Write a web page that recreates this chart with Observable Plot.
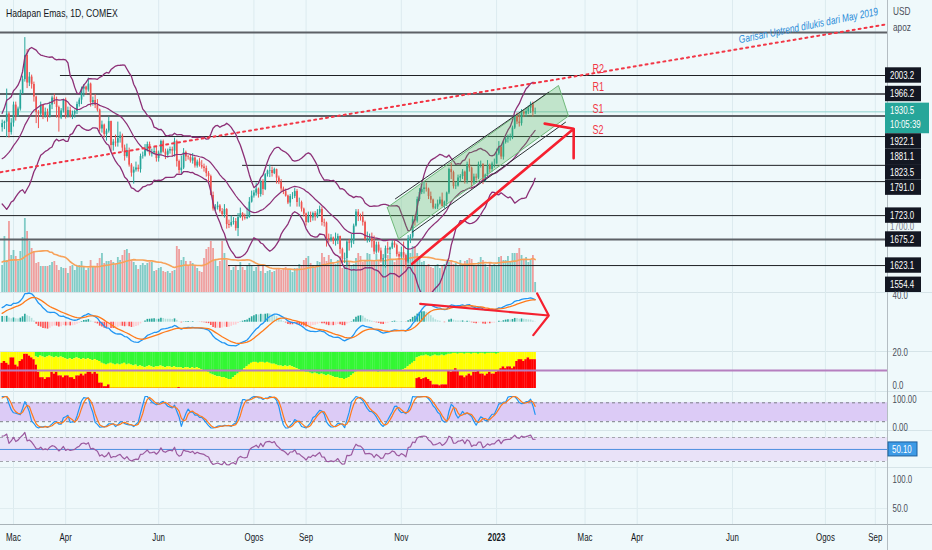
<!DOCTYPE html>
<html><head><meta charset="utf-8">
<script src="https://cdn.jsdelivr.net/npm/d3@7"></script>
<script src="https://cdn.jsdelivr.net/npm/@observablehq/plot@0.6"></script>
<style>
html,body{margin:0;padding:0;background:#eff9fb;}
#chart{position:relative;width:932px;height:550px;overflow:hidden;background:#eff9fb;
 font-family:"Liberation Sans",Arial,sans-serif;color:#131722;}
#chart svg{position:absolute;left:0;}
.sep{position:absolute;left:0;width:932px;height:1px;background:#d6e4e8;}
.txt{position:absolute;white-space:nowrap;transform:scaleX(0.75);transform-origin:0 0;}
</style></head>
<body><div id="chart"></div>
<script>
// ---------- DATA ----------
const monthLabels = ["Mac","Apr","Jun","Ogos","Sep","Nov","2023","Mac","Apr","Jun","Ogos","Sep"];
const monthIdx    = [5,28,69,111,134,176,218,257,280,322,363,385];

const warmClose = [1782,1762,1784,1779,1785,1783,1775,1783,1787,1771,1765,1798,1805,1793,1790,1803,1811,1810,1810,1805,1814,1828,
 1800,1815,1810,1789,1797,1801,1818,1826,1821,1817,1812,1843,1842,1832,1841,1853,1829,1793,1785,1796,
 1801,1808,1805,1808,1820,1826,1834,1836,1842,1869,1855,1871,1899,1900];
const warmVolume = [37,40,42,39,36,35,33,34,36,35,33,24,22,21,24,25,22,21,23];

const open = [1899,1907,1910,1926,1889,1908,1944,1922,1936,1966,
1995,2043,1988,2000,1985,1960,1929,1926,1943,1921,
1929,1921,1944,1958,1954,1939,1918,1932,1954,1923,
1933,1923,1926,1931,1945,1954,1976,1980,1974,1986,
1949,1953,1943,1934,1896,1904,1885,1892,1911,1863,
1870,1868,1877,1882,1858,1841,1853,1824,1808,1814,
1818,1815,1841,1842,1853,1865,1846,1848,1851,1837,
1848,1871,1850,1844,1852,1855,1852,1871,1831,1813,
1818,1849,1840,1839,1832,1838,1822,1830,1823,1820,
1817,1807,1801,1763,1736,1739,1742,1731,1725,1735,
1705,1703,1709,1711,1697,1719,1727,1719,1717,1719,
1750,1762,1768,1776,1765,1791,1775,1805,1812,1813,
1807,1815,1798,1789,1776,1771,1762,1748,1761,1761,
1771,1749,1749,1736,1726,1709,1721,1718,1727,1720,
1728,1735,1709,1708,1677,1675,1678,1671,1674,1681,
1655,1636,1637,1670,1668,1672,1702,1730,1721,1720,
1709,1675,1676,1677,1671,1650,1664,1652,1634,1637,
1657,1654,1658,1668,1663,1645,1640,1649,1643,1630,
1676,1680,1715,1712,1755,1769,1775,1778,1776,1761,
1754,1738,1740,1746,1754,1741,1750,1768,1815,1809,
1781,1782,1798,1801,1810,1792,1825,1818,1788,1800,
1798,1825,1825,1792,1804,1823,1815,1826,1826,1846,
1859,1840,1869,1876,1878,1878,1898,1921,1910,1907,
1930,1926,1931,1938,1946,1930];
const high = [1914,1912,1976,1930,1917,1950,1950,1940,1974,2002,
2079,2055,2009,2004,1990,1962,1933,1950,1945,1938,
1936,1950,1962,1966,1960,1942,1937,1956,1958,1940,
1940,1932,1934,1950,1958,1980,1985,1982,1998,1988,
1960,1965,1955,1936,1912,1906,1896,1920,1912,1875,
1884,1910,1890,1886,1864,1866,1858,1827,1820,1830,
1824,1846,1850,1865,1870,1870,1856,1860,1860,1852,
1874,1874,1856,1856,1860,1860,1878,1874,1834,1842,
1857,1852,1843,1845,1847,1840,1834,1837,1833,1826,
1822,1811,1804,1770,1745,1750,1745,1737,1745,1737,
1714,1722,1719,1717,1727,1738,1729,1726,1738,1759,
1772,1773,1788,1778,1794,1795,1807,1814,1824,1820,
1818,1816,1802,1795,1780,1776,1764,1765,1769,1777,
1775,1758,1752,1738,1728,1730,1730,1730,1731,1735,
1742,1740,1716,1710,1686,1685,1680,1688,1686,1682,
1658,1648,1673,1675,1685,1706,1735,1735,1726,1730,
1712,1690,1686,1688,1682,1670,1670,1658,1645,1662,
1670,1660,1675,1672,1666,1650,1660,1670,1646,1683,
1685,1721,1724,1760,1777,1785,1790,1788,1778,1770,
1756,1746,1754,1760,1768,1752,1770,1818,1828,1812,
1790,1804,1805,1815,1812,1830,1836,1820,1806,1806,
1830,1832,1827,1806,1833,1826,1830,1836,1856,1871,
1863,1872,1882,1884,1886,1902,1924,1928,1925,1935,
1934,1938,1942,1950,1950,1938];
const low = [1890,1895,1879,1878,1884,1900,1912,1920,1932,1966,
1990,1977,1981,1976,1950,1907,1897,1920,1915,1918,
1910,1918,1935,1945,1918,1890,1915,1928,1916,1918,
1918,1915,1918,1925,1940,1945,1960,1964,1970,1940,
1942,1937,1930,1890,1888,1878,1872,1888,1850,1852,
1860,1860,1868,1850,1832,1838,1820,1800,1786,1810,
1810,1808,1836,1840,1850,1842,1840,1845,1830,1830,
1844,1848,1835,1838,1846,1840,1840,1820,1806,1805,
1815,1831,1834,1828,1826,1818,1818,1820,1816,1810,
1800,1785,1763,1732,1731,1734,1728,1721,1718,1696,
1697,1700,1704,1692,1681,1717,1712,1714,1715,1718,
1748,1758,1762,1758,1760,1763,1773,1800,1799,1800,
1805,1786,1785,1770,1765,1760,1745,1740,1755,1757,
1740,1740,1730,1720,1702,1708,1709,1712,1712,1717,
1724,1702,1700,1660,1668,1670,1665,1662,1665,1646,
1627,1627,1622,1652,1658,1665,1700,1711,1712,1702,
1672,1668,1669,1658,1645,1646,1648,1628,1622,1618,
1646,1646,1655,1658,1640,1634,1636,1638,1618,1627,
1667,1676,1702,1708,1751,1765,1766,1770,1755,1747,
1735,1735,1735,1744,1740,1737,1741,1765,1795,1776,
1775,1780,1790,1795,1786,1786,1810,1776,1785,1792,
1795,1818,1785,1790,1800,1808,1810,1818,1826,1843,
1835,1834,1866,1868,1872,1875,1895,1905,1900,1902,
1919,1920,1925,1927,1920,1925];
const close = [1907,1910,1926,1889,1908,1944,1922,1936,1966,1995,
2043,1988,2000,1985,1960,1929,1926,1943,1921,1929,
1921,1944,1958,1954,1939,1918,1932,1954,1923,1933,
1923,1926,1931,1945,1954,1976,1980,1974,1986,1949,
1953,1943,1934,1896,1904,1885,1892,1911,1863,1870,
1868,1877,1882,1858,1841,1853,1824,1808,1814,1818,
1815,1841,1842,1853,1865,1846,1848,1851,1837,1848,
1871,1850,1844,1852,1855,1852,1871,1831,1813,1818,
1849,1840,1839,1832,1838,1822,1830,1823,1820,1817,
1807,1801,1763,1736,1739,1742,1731,1725,1735,1705,
1703,1709,1711,1697,1719,1727,1719,1717,1719,1750,
1762,1768,1776,1765,1791,1775,1805,1812,1813,1807,
1815,1798,1789,1776,1771,1762,1748,1761,1761,1771,
1749,1749,1736,1726,1709,1721,1718,1727,1720,1728,
1735,1709,1708,1677,1675,1678,1671,1674,1681,1655,
1636,1637,1670,1668,1672,1702,1730,1721,1720,1709,
1675,1676,1677,1671,1650,1664,1652,1634,1637,1657,
1654,1658,1668,1663,1645,1640,1649,1643,1630,1676,
1680,1715,1712,1755,1769,1775,1778,1776,1761,1754,
1738,1740,1746,1754,1741,1750,1768,1815,1809,1781,
1782,1798,1801,1810,1792,1825,1818,1788,1800,1798,
1825,1825,1792,1804,1823,1815,1826,1826,1846,1859,
1840,1869,1876,1878,1878,1898,1921,1910,1907,1930,
1926,1931,1938,1946,1930,1930.5];
// volume, in 10k contracts
const volume = [27,56,32,71,37,42,36,31,41,55,
74,61,51,44,41,29,30,26,26,26,
26,27,30,31,27,22,25,24,24,19,
26,27,22,26,27,31,26,22,24,32,
26,26,29,34,39,29,31,31,32,30,
28,35,32,37,42,43,39,32,30,27,
23,27,29,27,29,30,30,21,22,24,
25,21,20,21,19,21,22,46,43,32,
35,31,27,31,29,26,24,21,20,34,
43,45,51,44,32,26,31,51,39,32,
27,22,25,27,22,30,25,22,26,29,
27,21,25,27,21,26,19,21,22,20,
21,24,24,22,24,25,22,23,20,24,
24,28,27,32,34,36,29,27,25,31,
30,39,35,31,37,33,30,28,32,36,
24,26,31,31,27,28,34,39,36,30,
31,39,38,31,32,38,31,28,31,31,
37,39,33,30,32,33,34,37,36,41,
39,46,46,39,34,30,31,26,28,25,
24,26,28,24,26,28,31,30,31,28,
29,26,32,28,31,32,34,33,27,26,
30,35,32,28,25,29,27,28,27,35,
36,32,32,36,31,39,39,39,44,37,
32,35,30,33,37,10];
// stacked strength pane (0-20): top of red layer and top of yellow layer
const redLevel = [14,15,14,13,17,17,13,12,15,16,19,19,18,17,16,13,9,6,6,5,6,6,9,8,9,7,7,6,7,7,6,6,5,7,7,8,7,8,9,9,8,9,8,3,3,1,1,2,
 ...Array(30).fill(0),0.5,...Array(104).fill(0),
 5.5,6,5,5.5,6,5,4,2,2,2,1.5,2,2,2,10,9,10,11,10,7,7,6,7,8,7,9,9,10,8,8,7,8,9,8,8,9,10,
 11,12,11,12,12,11,12,15,16,16,15,16,17,16,16,16];
const yellowLevel = [20,20,20,20,20,20,20,20,20,20,20,20,20,20,20,
 17.5,17,18,17.5,17,17.5,18,17.5,17,17.5,17,17.5,17,
 16.5,16,16.5,16,16.5,17,16.5,16,16.5,16,16.5,16,15.5,16,15.5,15,
 14,13.5,13,13.5,14,13.5,13,13.5,13,13.5,14,13,13.5,13,12.5,13,
 12,12.5,12,11.5,12,12.5,12,11.5,12,12,12.5,12,11.5,12,12,11.5,12,11.5,11.5,
 11.5,11,11.5,11.5,11,11.5,11,11.5,11,10.5,10,9.5,
 9,8,7.5,7,6.5,6.5,6,6,5.5,5,5,6,
 7,8,9,10,11,12,13,
 14,14.5,14.5,14,14.5,14.5,14,14.5,14,13.5,13.5,13,
 12.5,12.5,12,12.5,12,12.5,12,11.5,11,10.5,10,
 9.5,9,9,8.5,8,8.5,8,7.5,8,7.5,7,7.5,7,6.5,6,6,5.5,5.5,5,5.5,6,7,8,9,
 9.5,10,9.5,9.5,10,9.5,9.5,10,9.5,9,9.5,9.5,10,9.5,9.5,10,9.5,9.5,10,10,10.5,11,12,
 13,14,15,
 17,17.5,18,18,18.5,18,17.5,18,18.5,18,18,18.5,18,18.5,19,
 19,19.5,19.5,19,19.5,19.5,19,19.5,19.5,19,19.5,19.5,19,19.5,19.5,19,19.5,19.5,19.5,19.5,19,19.5,
 20,20,20,20,20,20,20,20,20,20,20,20,20,20,20,20];

// horizontal price levels drawn on the chart
const levels      = [2089, 2003.2, 1966.2, 1922.1, 1881.1, 1823.5, 1791.0, 1723.0, 1675.2, 1623.1, 1554.4];
const levelStart  = [null, 25.7, null, null, null, 106, null, null, null, 99.8, null];
const levelLabel  = [false, true, true, true, true, true, true, true, true, true, true];
const lastPrice = 1930.5, countdown = "10:05:39";
const srLabels = ["R2","R1","S1","S2"];
const srValues = [2003.2, 1966.2, 1922.1, 1881.1];
const srIdx = 260.3;
// drawings (anchor points: bar index, price)
const trendIdx = [-0.73, 390.4], trendPrice = [1809.8, 2105.8];
const trendNote = "Garisan Uptrend dilukis dari May 2019", trendNoteIdx = 355.5, trendNotePrice = 2103;
const boxIdx = [169.8, 245.3, 249.7, 174.8, 169.8], boxPrice = [1739.2, 1983.2, 1922.2, 1676.2, 1739.2];
const chanUpIdx = [173.4, 241], chanUpPrice = [1756.6, 1969.8];
const chanLoIdx = [180.8, 248.4], chanLoPrice = [1689.8, 1909.8];
const arrowIdx = [180.8, 252], arrowPrice = [1626.6, 1896.6];
const macdArrowIdx = [184.3, 241], macdArrowVal = [27.6, 10];
const rsiMid = 50.10;

// ---------- INDICATORS ----------
function smaW(a,n){return a.map((_,i)=>{if(i<n-1)return NaN;let s=0;for(let j=i-n+1;j<=i;j++){if(isNaN(a[j]))return NaN;s+=a[j];}return s/n;});}
function sdW(a,n){const m=smaW(a,n);return a.map((_,i)=>{if(isNaN(m[i]))return NaN;let s=0;for(let j=i-n+1;j<=i;j++)s+=(a[j]-m[i])**2;return Math.sqrt(s/n);});}
function emaW(a,n){const k=2/(n+1);let p;return a.map(v=>{if(isNaN(v))return NaN;p=(p===undefined)?v:v*k+p*(1-k);return p;});}
function rsiW(a,n){const o=new Array(a.length).fill(NaN);let ag=0,al=0;
 for(let i=1;i<a.length;i++){const d=a[i]-a[i-1],g=Math.max(d,0),l=Math.max(-d,0);
  if(i<=n){ag+=g/n;al+=l/n;if(i===n)o[i]=al===0?100:100-100/(1+ag/al);}
  else{ag=(ag*(n-1)+g)/n;al=(al*(n-1)+l)/n;o[i]=al===0?100:100-100/(1+ag/al);}}return o;}
const allC = warmClose.concat(close), W = warmClose.length;
const bbM = smaW(allC,20), bbS = sdW(allC,20);
const e12 = emaW(allC,12), e26 = emaW(allC,26);
const macdA = e12.map((v,i)=>v-e26[i]);
const sigA = emaW(macdA,9);
const rsiA = rsiW(allC,14);
const stA = rsiA.map((r,i)=>{if(i<13)return NaN;const w=rsiA.slice(i-13,i+1);if(w.some(isNaN))return NaN;const lo=d3.min(w),hi=d3.max(w);return hi===lo?0:100*(r-lo)/(hi-lo);});
const kA = smaW(stA,3), dA = smaW(kA,3);
const allV = warmVolume.concat(volume), WV = warmVolume.length, vmaA = smaW(allV,20);

const bars = close.map((c,i)=>{const j=i+W;return {i,o:open[i],h:high[i],l:low[i],c,v:volume[i],up:c>=open[i],
 bu:bbM[j]+2.5*bbS[j], bm:bbM[j], bl:bbM[j]-2.5*bbS[j], macd:macdA[j], sig:sigA[j], hist:macdA[j]-sigA[j],
 rsi:rsiA[j], k:kA[j], d:dA[j], vma:vmaA[i+WV], red:redLevel[i], yel:yellowLevel[i]};});
bars.forEach((b,i)=>{const p=i>0?bars[i-1].hist:b.hist;
 b.hc = b.hist>=0 ? (b.hist>=p?"#26a69a":"#b2dfdb") : (b.hist>p?"#ffcdd2":"#ff5252");});

// ---------- LAYOUT ----------
const chart = document.getElementById("chart");
const FONT = '"Liberation Sans",Arial,sans-serif';
const SQUEEZE = 0.75;
const xDomain = [-0.732, 390.36];
const xMax = xDomain[1];
const UP="#26a69a", DN="#ef5350";
function sep(y,c){const d=document.createElement("div");d.className="sep";d.style.top=y+"px";if(c)d.style.background=c;chart.appendChild(d);}
function pane(top,height,yDomain,marks){
 const svg = Plot.plot({width:932,height,marginLeft:0,marginRight:45,marginTop:0,marginBottom:0,
  x:{domain:xDomain,axis:null}, y:{domain:yDomain,axis:null}, color:{type:"identity"},
  style:{background:"transparent",overflow:"visible",fontFamily:FONT,fontSize:"10.5px",color:"#131722"}, marks});
 svg.style.position="absolute"; svg.style.top=top+"px"; svg.style.left="0px";
 chart.appendChild(svg); return svg;}
const axisTxt = (vals, fmt, opts={}) => Plot.text(vals,{x:()=>xMax,y:d=>d,text:fmt,textAnchor:"start",dx:5,fill:"#4a4e59",fontSize:10.5,...opts});

[292,351,391,429.5,467].forEach(y=>sep(y));
sep(524,"#a9b3b8");
{const v=document.createElement("div");v.style.cssText="position:absolute;left:887px;top:0;width:1px;height:550px;background:#b4bdc2;";chart.appendChild(v);}

// grid
pane(0,524,[0,1],[Plot.ruleX(monthIdx,{stroke:"#dcebef",strokeWidth:1})]);

// volume overlay
pane(0,292,[0,292],[
 Plot.ruleX(bars,{x:"i",y1:0,y2:"v",stroke:d=>d.up?"rgba(38,166,154,0.55)":"rgba(239,83,80,0.55)",strokeWidth:1.8}),
 Plot.line(bars,{x:"i",y:"vma",stroke:"#f7a25a",strokeWidth:1.6})
]);

// price-axis labels (function mark using Plot's scales)
function priceAxis(index, scales){
 const y=scales.y, X0=scales.x(xMax)-2;
 const g=d3.create("svg:g").attr("font-family",FONT).attr("font-size",10.5).attr("text-anchor","start");
 g.append("text").attr("x",X0+5).attr("y",y(1700)).attr("dy","0.35em").attr("fill","#787b86").text("1700.0");
 const items = levels.filter((v,k)=>levelLabel[k]).map(v=>({v,txt:[v.toFixed(1)],bg:"#131722",h:15.4,off:7.7,w:36}));
 items.push({v:lastPrice,txt:[lastPrice.toFixed(1),countdown],bg:"#26a69a",h:30.6,off:8.7,w:44});
 items.sort((a,b)=>b.v-a.v);
 let prev=-Infinity;
 items.forEach(it=>{let t=y(it.v)-it.off; if(t<prev)t=prev; if(t+it.h>292)t=292-it.h; prev=t+it.h;
  g.append("rect").attr("x",X0).attr("y",t).attr("width",it.w).attr("height",it.h).attr("fill",it.bg);
  it.txt.forEach((s,q)=>g.append("text").attr("x",X0+5).attr("y",t+7.9+q*14).attr("dy","0.35em").attr("fill","#fff").text(s));});
 return g.node();}

// main price pane
pane(0,292,[1569.2,2153.2],[
 Plot.ruleY(levels.map((v,k)=>({v,s:levelStart[k]??xDomain[0],thick:[2089,1966.2,1922.1,1675.2].includes(v)})),
  {y:"v",x1:"s",x2:()=>xMax,stroke:d=>d.thick?"#5d6166":"#1e2124",strokeWidth:d=>d.thick?2:1,clip:true}),
 Plot.ruleY([lastPrice],{stroke:"#8fd3ce",strokeWidth:1}),
 Plot.ruleX(bars,{x:"i",y1:"l",y2:"h",stroke:d=>d.up?UP:DN,strokeWidth:1}),
 Plot.ruleX(bars,{x:"i",y1:"o",y2:"c",stroke:d=>d.up?UP:DN,strokeWidth:1.7}),
 Plot.line(bars,{x:"i",y:"bu",stroke:"#8c2f76",strokeWidth:1.3,clip:true}),
 Plot.line(bars,{x:"i",y:"bm",stroke:"#8c2f76",strokeWidth:1.2,clip:true}),
 Plot.line(bars,{x:"i",y:"bl",stroke:"#8c2f76",strokeWidth:1.3,clip:true}),
 Plot.line(boxIdx.map((x,k)=>({x,y:boxPrice[k]})),{x:"x",y:"y",fill:"rgba(76,175,80,0.28)",stroke:"#6fb97a",strokeWidth:1}),
 Plot.line(chanUpIdx.map((x,k)=>({x,y:chanUpPrice[k]})),{x:"x",y:"y",stroke:"#2b2f33",strokeWidth:1}),
 Plot.line(chanLoIdx.map((x,k)=>({x,y:chanLoPrice[k]})),{x:"x",y:"y",stroke:"#2b2f33",strokeWidth:1}),
 Plot.line(trendIdx.map((x,k)=>({x,y:trendPrice[k]})),{x:"x",y:"y",stroke:"#f23645",strokeWidth:2,strokeDasharray:"2,4",clip:true}),
 Plot.arrow([{x1:arrowIdx[0],y1:arrowPrice[0],x2:arrowIdx[1],y2:arrowPrice[1]}],{x1:"x1",y1:"y1",x2:"x2",y2:"y2",stroke:"#f5202f",strokeWidth:2.6,headLength:17,headAngle:100}),
 Plot.text(srLabels.map((t,k)=>({t,v:srValues[k]})),{x:()=>srIdx,y:"v",text:"t",fill:"#f23645",fontSize:12,textAnchor:"start",lineAnchor:"bottom",dy:-3}),
 Plot.text([trendNote],{x:()=>trendNoteIdx,y:()=>trendNotePrice,text:d=>d,rotate:-11.5,fill:"#2a8bd8",fontStyle:"italic",fontSize:11}),
 priceAxis
]);

// MACD pane
pane(292,58,[-42.4,44.5],[
 Plot.ruleX(bars,{x:"i",y1:0,y2:"hist",stroke:"hc",strokeWidth:1.6}),
 Plot.line(bars,{x:"i",y:"macd",stroke:"#2196f3",strokeWidth:1.3,clip:true}),
 Plot.line(bars,{x:"i",y:"sig",stroke:"#ff7a1a",strokeWidth:1.3,clip:true}),
 Plot.arrow([{x1:macdArrowIdx[0],y1:macdArrowVal[0],x2:macdArrowIdx[1],y2:macdArrowVal[1]}],{x1:"x1",y1:"y1",x2:"x2",y2:"y2",stroke:"#f5202f",strokeWidth:2.2,headLength:17,headAngle:114}),
 axisTxt([40],d=>d.toFixed(1))
]);

// stacked strength pane
pane(352,36,[0,20],[
 Plot.rect(bars,{x1:d=>d.i-0.55,x2:d=>d.i+0.55,y1:d=>d.yel,y2:20,fill:"#33f733"}),
 Plot.rect(bars,{x1:d=>d.i-0.55,x2:d=>d.i+0.55,y1:d=>d.red,y2:d=>d.yel,fill:"#ffff00"}),
 Plot.rect(bars,{x1:d=>d.i-0.55,x2:d=>d.i+0.55,y1:0,y2:d=>Math.max(d.red,0.15),fill:"#ff0000"}),
 Plot.ruleY([10],{x1:xDomain[0],x2:xMax,stroke:"#b67fbf",strokeWidth:2}),
 axisTxt([20],d=>d.toFixed(1)),
 axisTxt([0],d=>d.toFixed(1),{dy:-3})
]);

// Stoch RSI pane
pane(396,31.5,[0,100],[
 Plot.rect([0],{x1:xDomain[0],x2:xMax,y1:20,y2:80,fill:"#dccbf6"}),
 Plot.ruleY([80,20],{stroke:"#7d7f88",strokeDasharray:"3,3",strokeWidth:1}),
 Plot.line(bars,{x:"i",y:"k",stroke:"#2196f3",strokeWidth:1.2}),
 Plot.line(bars,{x:"i",y:"d",stroke:"#ff7a1a",strokeWidth:1.2}),
 axisTxt([100],d=>d.toFixed(2),{dy:3}),
 axisTxt([0],d=>d.toFixed(2))
]);

// RSI pane
pane(418.7,60,[0,100],[
 Plot.rect([0],{x1:xDomain[0],x2:xMax,y1:30,y2:70,fill:"#e9e2f8"}),
 Plot.ruleY([70,30],{stroke:"#a3a5ad",strokeDasharray:"3,3",strokeWidth:1}),
 Plot.ruleY([rsiMid],{stroke:"#4d8fe0",strokeWidth:1}),
 Plot.line(bars,{x:"i",y:"rsi",stroke:"#9b5a9f",strokeWidth:1.2}),
 (index,scales)=>{const g=d3.create("svg:g").attr("font-family",FONT).attr("font-size",10.5).attr("text-anchor","start");
   const X0=scales.x(xMax)+1, yy=scales.y(rsiMid);
   g.append("rect").attr("x",X0).attr("y",yy-7).attr("width",29).attr("height",14).attr("fill","#3d9be6").attr("stroke","#1d5f9c");
   g.append("text").attr("x",X0+4).attr("y",yy).attr("dy","0.35em").attr("fill","#fff").text(rsiMid.toFixed(2));
   return g.node();}
]);

// empty bottom pane scale
pane(468,56,[22.4,119],[
 Plot.ruleY([50],{x1:xDomain[0],x2:xMax,stroke:"#e0edf0"}),
 axisTxt([100,50],d=>d.toFixed(1))
]);

// time axis
pane(524,26,[0,1],[
 Plot.text(monthLabels.map((t,k)=>({t,x:monthIdx[k]})).filter(d=>d.t!=="2023"),{x:"x",y:()=>0.5,text:"t",fill:"#131722",fontSize:10.5}),
 Plot.text(monthLabels.map((t,k)=>({t,x:monthIdx[k]})).filter(d=>d.t==="2023"),{x:"x",y:()=>0.5,text:"t",fill:"#131722",fontSize:10.5,fontWeight:"bold"})
]);

// header texts
function txt(s,x,y,css){const d=document.createElement("div");d.className="txt";d.textContent=s;d.style.left=x+"px";d.style.top=y+"px";d.style.cssText+=css||"";chart.appendChild(d);}
txt("Hadapan Emas, 1D, COMEX",6,7,"font-size:11.5px;color:#131722;");
txt("USD",893,5,"font-size:11px;color:#4a4e59;");
txt("apoz",893,21,"font-size:11px;color:#4a4e59;");

// TradingView's label face is narrow: squeeze every SVG text horizontally
chart.querySelectorAll("svg text").forEach(t=>{
 const tr=t.getAttribute("transform")||"";
 if(tr.includes("rotate")){t.setAttribute("transform",tr+" scale(0.76,1)");return;}
 const L=t.getComputedTextLength();
 if(L>0){t.setAttribute("textLength",(L*SQUEEZE).toFixed(2));t.setAttribute("lengthAdjust","spacingAndGlyphs");}});
</script></body></html>
